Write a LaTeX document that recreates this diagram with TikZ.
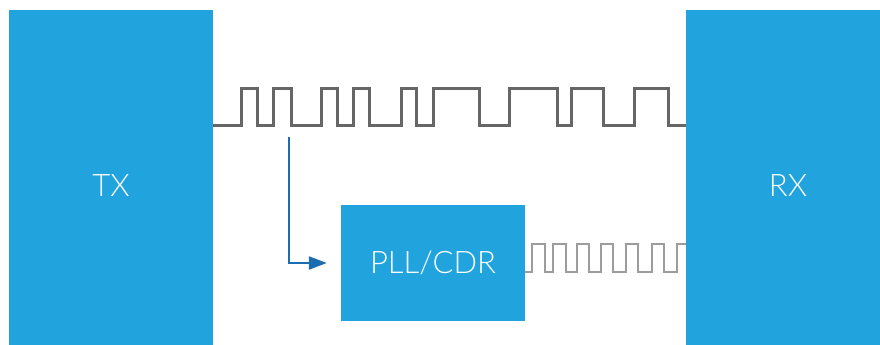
\documentclass[tikz,border=0pt]{standalone}
\usepackage{fontspec}
\setmainfont{Lato}[UprightFont=* Light]
\usetikzlibrary{arrows.meta}
\definecolor{boxblue}{HTML}{21A4DD}
\definecolor{datagray}{HTML}{666666}
\definecolor{clkgray}{HTML}{9C9C9C}
\definecolor{arrowblue}{HTML}{1B6DB2}
\tikzset{
  block/.style={fill=boxblue, draw=none, inner sep=0pt, text=white,
    font=\fontsize{31}{36}\selectfont},
  datawave/.style={draw=datagray, line width=3pt, line join=miter},
  clockwave/.style={draw=clkgray, line width=2.4pt, line join=miter},
  tap/.style={draw=arrowblue, line width=2.2pt,
    -{Triangle[length=18pt,width=13pt]}, shorten >=14pt}
}
\begin{document}
\begin{tikzpicture}[x=1pt,y=-1pt]
\useasboundingbox (0,0) rectangle (880,345);
% transmitter, receiver and clock recovery blocks
\node[block, minimum width=204pt, minimum height=352pt] (tx) at (111,186) {TX};
\node[block, minimum width=204pt, minimum height=352pt] (rx) at (788,186) {RX};
\node[block, minimum width=184pt, minimum height=116pt] (pll) at (433,263) {PLL/CDR};
% serial data stream from TX to RX
\draw[datawave] (tx.east |- 0,125)
  -- (241,125) -- (241,88) -- (257,88) -- (257,125)
  -- (273,125) -- (273,88) -- (291,88) -- (291,125)
  -- (321,125) -- (321,88) -- (337,88) -- (337,125)
  -- (353,125) -- (353,88) -- (369,88) -- (369,125)
  -- (401,125) -- (401,88) -- (416,88) -- (416,125)
  -- (433,125) -- (433,88) -- (479,88) -- (479,125)
  -- (509,125) -- (509,88) -- (557,88) -- (557,125)
  -- (571,125) -- (571,88) -- (603,88) -- (603,125)
  -- (634,125) -- (634,88) -- (668,88) -- (668,125)
  -- (rx.west |- 0,125);
% tap of the data stream into the PLL/CDR
\coordinate (tapstart) at (289,137);
\draw[tap] (tapstart) |- (pll.west);
% recovered clock from PLL/CDR to RX
\draw[clockwave] (pll.east |- 0,272)
  -- (532,272) -- (532,244) -- (545,244) -- (545,272)
  -- (553,272) -- (553,244) -- (566,244) -- (566,272)
  -- (577,272) -- (577,244) -- (589,244) -- (589,272)
  -- (601,272) -- (601,244) -- (613,244) -- (613,272)
  -- (626,272) -- (626,244) -- (638,244) -- (638,272)
  -- (652,272) -- (652,244) -- (664,244) -- (664,272)
  -- (677,272) -- (677,244) -- (rx.west |- 0,244);
\end{tikzpicture}
\end{document}
